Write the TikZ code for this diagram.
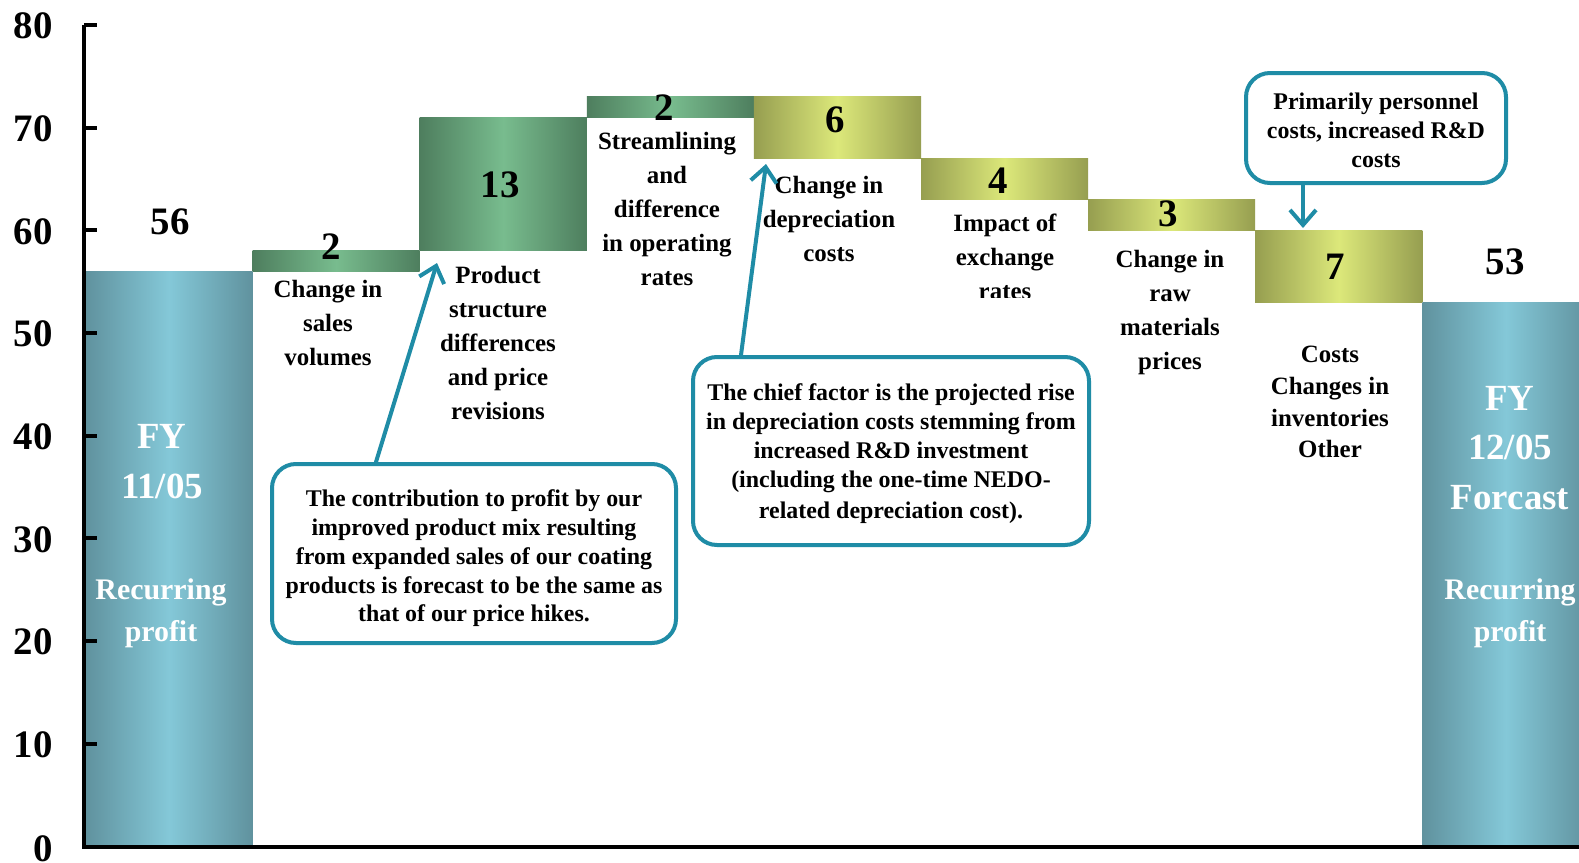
\documentclass[tikz,border=0pt]{standalone}
\usepackage{fontspec}
\setmainfont{Liberation Serif}
\usetikzlibrary{arrows.meta}
\definecolor{tealc}{RGB}{31,140,166}
\definecolor{blueE}{RGB}{96,146,158}
\definecolor{blueM}{RGB}{132,200,216}
\definecolor{greenE}{RGB}{78,126,94}
\definecolor{greenM}{RGB}{120,188,142}
\definecolor{yelE}{RGB}{150,158,80}
\definecolor{yelM}{RGB}{220,232,122}
\begin{document}
\begin{tikzpicture}[x=1bp,y=-1bp,
  bluebar/.style={left color=blueE, right color=blueE, middle color=blueM},
  greenbar/.style={left color=greenE, right color=greenE, middle color=greenM},
  yelbar/.style={left color=yelE, right color=yelE, middle color=yelM},
  axislbl/.style={anchor=east, inner sep=0pt, font=\fontsize{39}{42}\selectfont\bfseries},
  numlbl/.style={inner sep=0pt, font=\fontsize{39}{42}\selectfont\bfseries},
  catlbl/.style={inner sep=0pt, align=center, font=\fontsize{25}{34}\selectfont\bfseries},
  whitelbl/.style={inner sep=0pt, align=center, text=white, font=\fontsize{37}{50}\selectfont\bfseries},
  whitesub/.style={inner sep=0pt, align=center, text=white, font=\fontsize{30}{42}\selectfont\bfseries},
  callout/.style={draw=tealc, line width=4bp, rounded corners=24bp, fill=white, inner sep=0pt},
  callouttext/.style={align=center, inner sep=0pt, font=\fontsize{24}{28.8}\selectfont\bfseries},
  callarrow/.style={draw=tealc, line width=4bp, line cap=round, -{Straight Barb[length=15bp,width=26bp]}},
  axisline/.style={draw=black, line width=4bp}
]
\useasboundingbox (0,0) rectangle (1579,862);
\fill[white] (0,0) rectangle (1579,862);

% bars
\path[bluebar]  (85.5,846.5) rectangle (252.6,271.4);
\path[greenbar] (252.6,271.4) rectangle (419.7,250.8);
\path[greenbar] (419.7,250.8) rectangle (586.8,117.3);
\path[greenbar] (586.8,117.3) rectangle (753.9,96.8);
\path[yelbar]   (753.9,96.8) rectangle (921,158.4);
\path[yelbar]   (921,158.4) rectangle (1088.1,199.5);
\path[yelbar]   (1088.1,199.5) rectangle (1255.2,230.3);
\path[yelbar]   (1255.2,230.3) rectangle (1422.3,302.2);
\path[bluebar]  (1422.3,302.2) rectangle (1589.4,846.5);

% axes
\draw[axisline] (84,24.9) -- (84,846.5) -- (1579,846.5);
\foreach \yy in {24.9,127.6,230.3,333.0,435.7,538.4,641.1,743.8}
  \draw[axisline] (84,\yy) -- (97,\yy);
\node[axislbl] (t80) at (53,26)  {80};
\node[axislbl] (t70) at (53,128.6) {70};
\node[axislbl] (t60) at (53,231.3) {60};
\node[axislbl] (t50) at (53,334) {50};
\node[axislbl] (t40) at (53,436.7) {40};
\node[axislbl] (t30) at (53,539.4) {30};
\node[axislbl] (t20) at (53,642.1) {20};
\node[axislbl] (t10) at (53,744.8) {10};
\node[axislbl] (t0)  at (53,849) {0};

% value labels
\node[numlbl] (v56) at (170,222) {56};
\node[numlbl] (v2a) at (331,247) {2};
\node[numlbl] (v13) at (500,185) {13};
\node[numlbl] (v2b) at (664,108) {2};
\node[numlbl] (v6)  at (835,120) {6};
\node[numlbl] (v4)  at (998,181) {4};
\node[numlbl] (v3)  at (1168,214) {3};
\node[numlbl] (v7)  at (1335,267) {7};
\node[numlbl] (v53) at (1505,262) {53};

% category labels
\node[catlbl] (c2) at (328,323) {Change in\\sales\\volumes};
\node[catlbl] (c3) at (498,343) {Product\\structure\\differences\\and price\\revisions};
\node[catlbl] (c4) at (667,209) {Streamlining\\and\\difference\\in operating\\rates};
\node[catlbl] (c5) at (829,219) {Change in\\depreciation\\costs};
\begin{scope}
  \clip (921,200) rectangle (1088,297);
  \node[catlbl] (c6) at (1005,256.5) {Impact of\\exchange\\rates};
\end{scope}
\node[catlbl] (c7) at (1170,312.5) {Change in\\raw\\materials\\prices};
\node[catlbl, font=\fontsize{25}{32}\selectfont\bfseries] (c8) at (1330,402) {Costs\\Changes in\\inventories\\Other};

% white labels in blue bars
\node[whitelbl] (fy1) at (162,462) {FY\\11/05};
\node[whitesub] (rp1) at (161,613.5) {Recurring\\profit};
\node[whitelbl] (fy2) at (1510,448) {FY\\12/05\\Forcast};
\node[whitesub] (rp2) at (1510,613.5) {Recurring\\profit};

% callouts
\node[callout, minimum width=404bp, minimum height=179bp] (box1) at (474,553.5) {};
\node[callouttext] (box1t) at (474,558.5)
  {The contribution to profit by our\\improved product mix resulting\\from expanded sales of our coating\\products is forecast to be the same as\\that of our price hikes.};
\node[callout, minimum width=396bp, minimum height=188bp] (box2) at (891,451) {};
\node[callouttext] (box2t) at (891,454)
  {The chief factor is the projected rise\\in depreciation costs stemming from\\increased R\&D investment\\(including the one-time NEDO-\\[3bp]related depreciation cost).};
\node[callout, minimum width=260bp, minimum height=110bp] (box3) at (1376,128) {};
\node[callouttext] (box3t) at (1376,130.5)
  {Primarily personnel\\costs, increased R\&D\\costs};

\coordinate (a1s) at (376,464);
\coordinate (a1e) at (437,263);
\coordinate (a2s) at (741,357);
\coordinate (a2e) at (766,164);
\coordinate (a3s) at (1303,183);
\coordinate (a3e) at (1303,228);
\draw[callarrow] (box1.north -| a1s) -- (a1e);
\draw[callarrow] (box2.north -| a2s) -- (a2e);
\draw[callarrow] (box3.south -| a3s) -- (a3e);
\end{tikzpicture}
\end{document}
